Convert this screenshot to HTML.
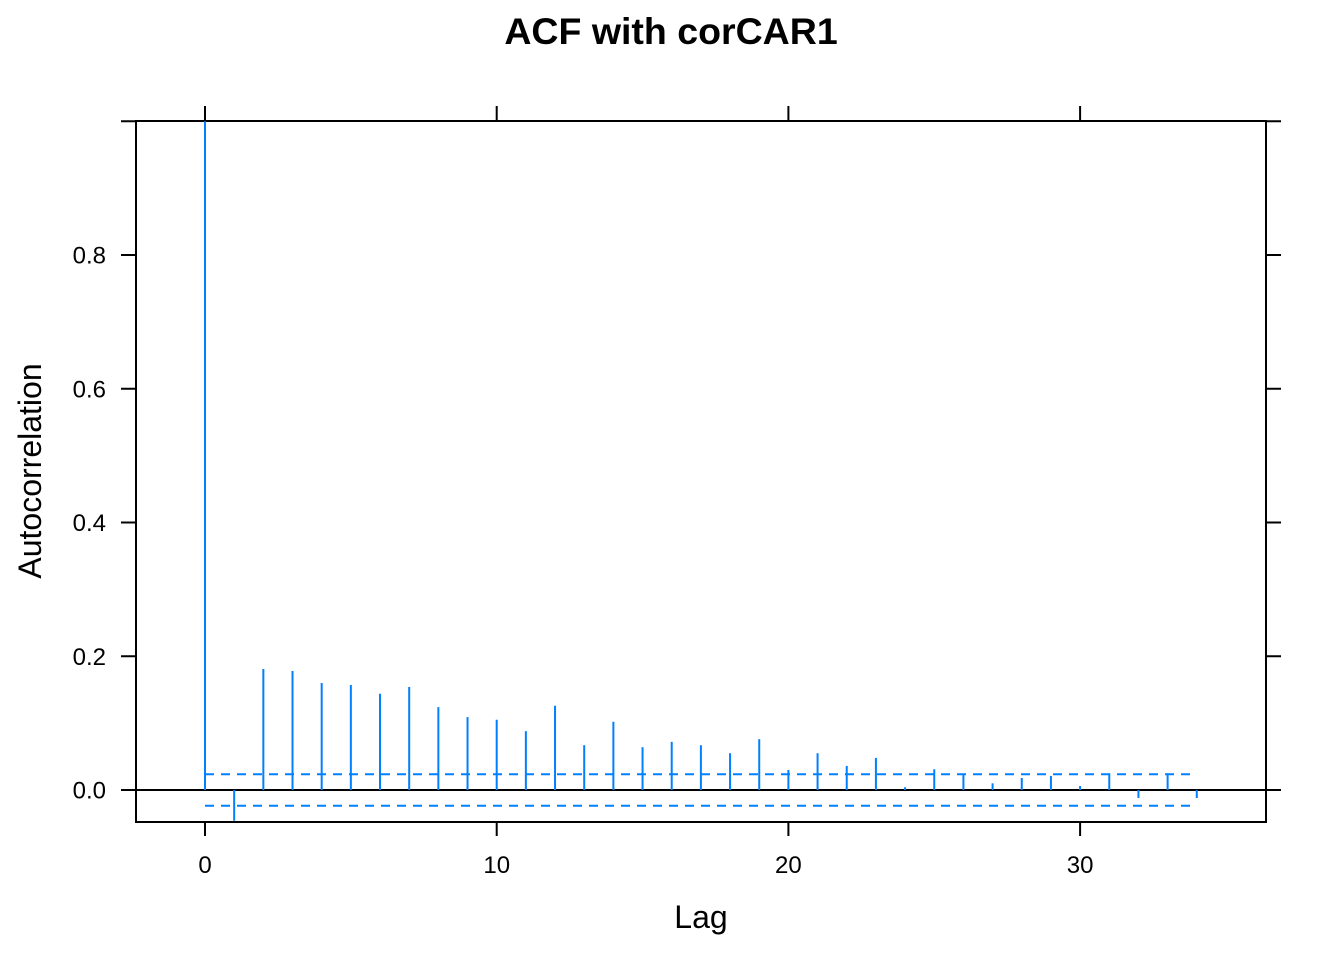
<!DOCTYPE html>
<html><head><meta charset="utf-8"><style>
body{margin:0;background:#fff;}
svg text{font-family:"Liberation Sans",Arial,sans-serif;fill:#000;}
</style></head><body>
<svg id="chart" width="1344" height="960" xmlns="http://www.w3.org/2000/svg">
<text x="671" y="44" text-anchor="middle" font-size="37.5" font-weight="bold">ACF with corCAR1</text>
<rect x="136" y="121" width="1130" height="701" fill="none" stroke="#000" stroke-width="2"/>
<g id="axes"></g>
<g id="marks"></g>
<text x="701" y="928" text-anchor="middle" font-size="32">Lag</text>
<text transform="translate(41,471) rotate(-90)" text-anchor="middle" font-size="32">Autocorrelation</text>
</svg>
<script>
const lags = [0,1,2,3,4,5,6,7,8,9,10,11,12,13,14,15,16,17,18,19,20,21,22,23,24,25,26,27,28,29,30,31,32,33,34];
const acfValues = [1.0,-0.046,0.181,0.178,0.160,0.157,0.144,0.154,0.124,0.109,0.105,0.088,0.126,0.067,0.102,0.064,0.072,0.067,0.055,0.076,0.030,0.055,0.036,0.048,0.004,0.031,0.024,0.010,0.018,0.021,0.006,0.025,-0.012,0.025,-0.012];
const bound = 0.0235;
const xTicks = [0,10,20,30];
const yTicks = [0,0.2,0.4,0.6,0.8,1.0];
const yTickLabels = ["0.0","0.2","0.4","0.6","0.8",""];

const NS="http://www.w3.org/2000/svg";
const X = v => 205 + v*29.17;
const Y = v => 790 - v*668.75;
const axes=document.getElementById('axes'), marks=document.getElementById('marks');
function mk(tag,attrs,parent){const e=document.createElementNS(NS,tag);for(const k in attrs)e.setAttribute(k,attrs[k]);parent.appendChild(e);return e;}

xTicks.forEach(t=>{
  const a=mk('line',{x1:X(t),x2:X(t),y1:822,y2:836,stroke:'#000','stroke-width':2},axes);
  
  
  const b=mk('line',{x1:X(t),x2:X(t),y1:106,y2:121,stroke:'#000','stroke-width':2},axes);
  
  
  const l=mk('text',{x:X(t),y:873,'text-anchor':'middle','font-size':24},axes);
  l.textContent=t;
  
  
});
yTicks.forEach((t,i)=>{
  const a=mk('line',{x1:121,x2:136,y1:Y(t),y2:Y(t),stroke:'#000','stroke-width':2},axes);
  
  
  const b=mk('line',{x1:1266,x2:1281,y1:Y(t),y2:Y(t),stroke:'#000','stroke-width':2},axes);
  
  
  if(yTickLabels[i]){
    const l=mk('text',{x:106,y:Y(t)+8.5,'text-anchor':'end','font-size':24},axes);
    l.textContent=yTickLabels[i];
    
    
  }
});
const z=mk('line',{x1:136,x2:1266,y1:Y(0),y2:Y(0),stroke:'#000','stroke-width':2},marks);


[bound,-bound].forEach(b=>{
  const d=mk('line',{x1:X(0),x2:X(34)-5,y1:Y(b),y2:Y(b),stroke:'#0080ff','stroke-width':2,'stroke-dasharray':'9 7'},marks);
  
  
});
lags.forEach((g,i)=>{
  const s=mk('line',{x1:X(g),x2:X(g),y1:Y(0),y2:Y(acfValues[i]),stroke:'#0080ff','stroke-width':2},marks);
  
  
});
</script>
</body></html>
